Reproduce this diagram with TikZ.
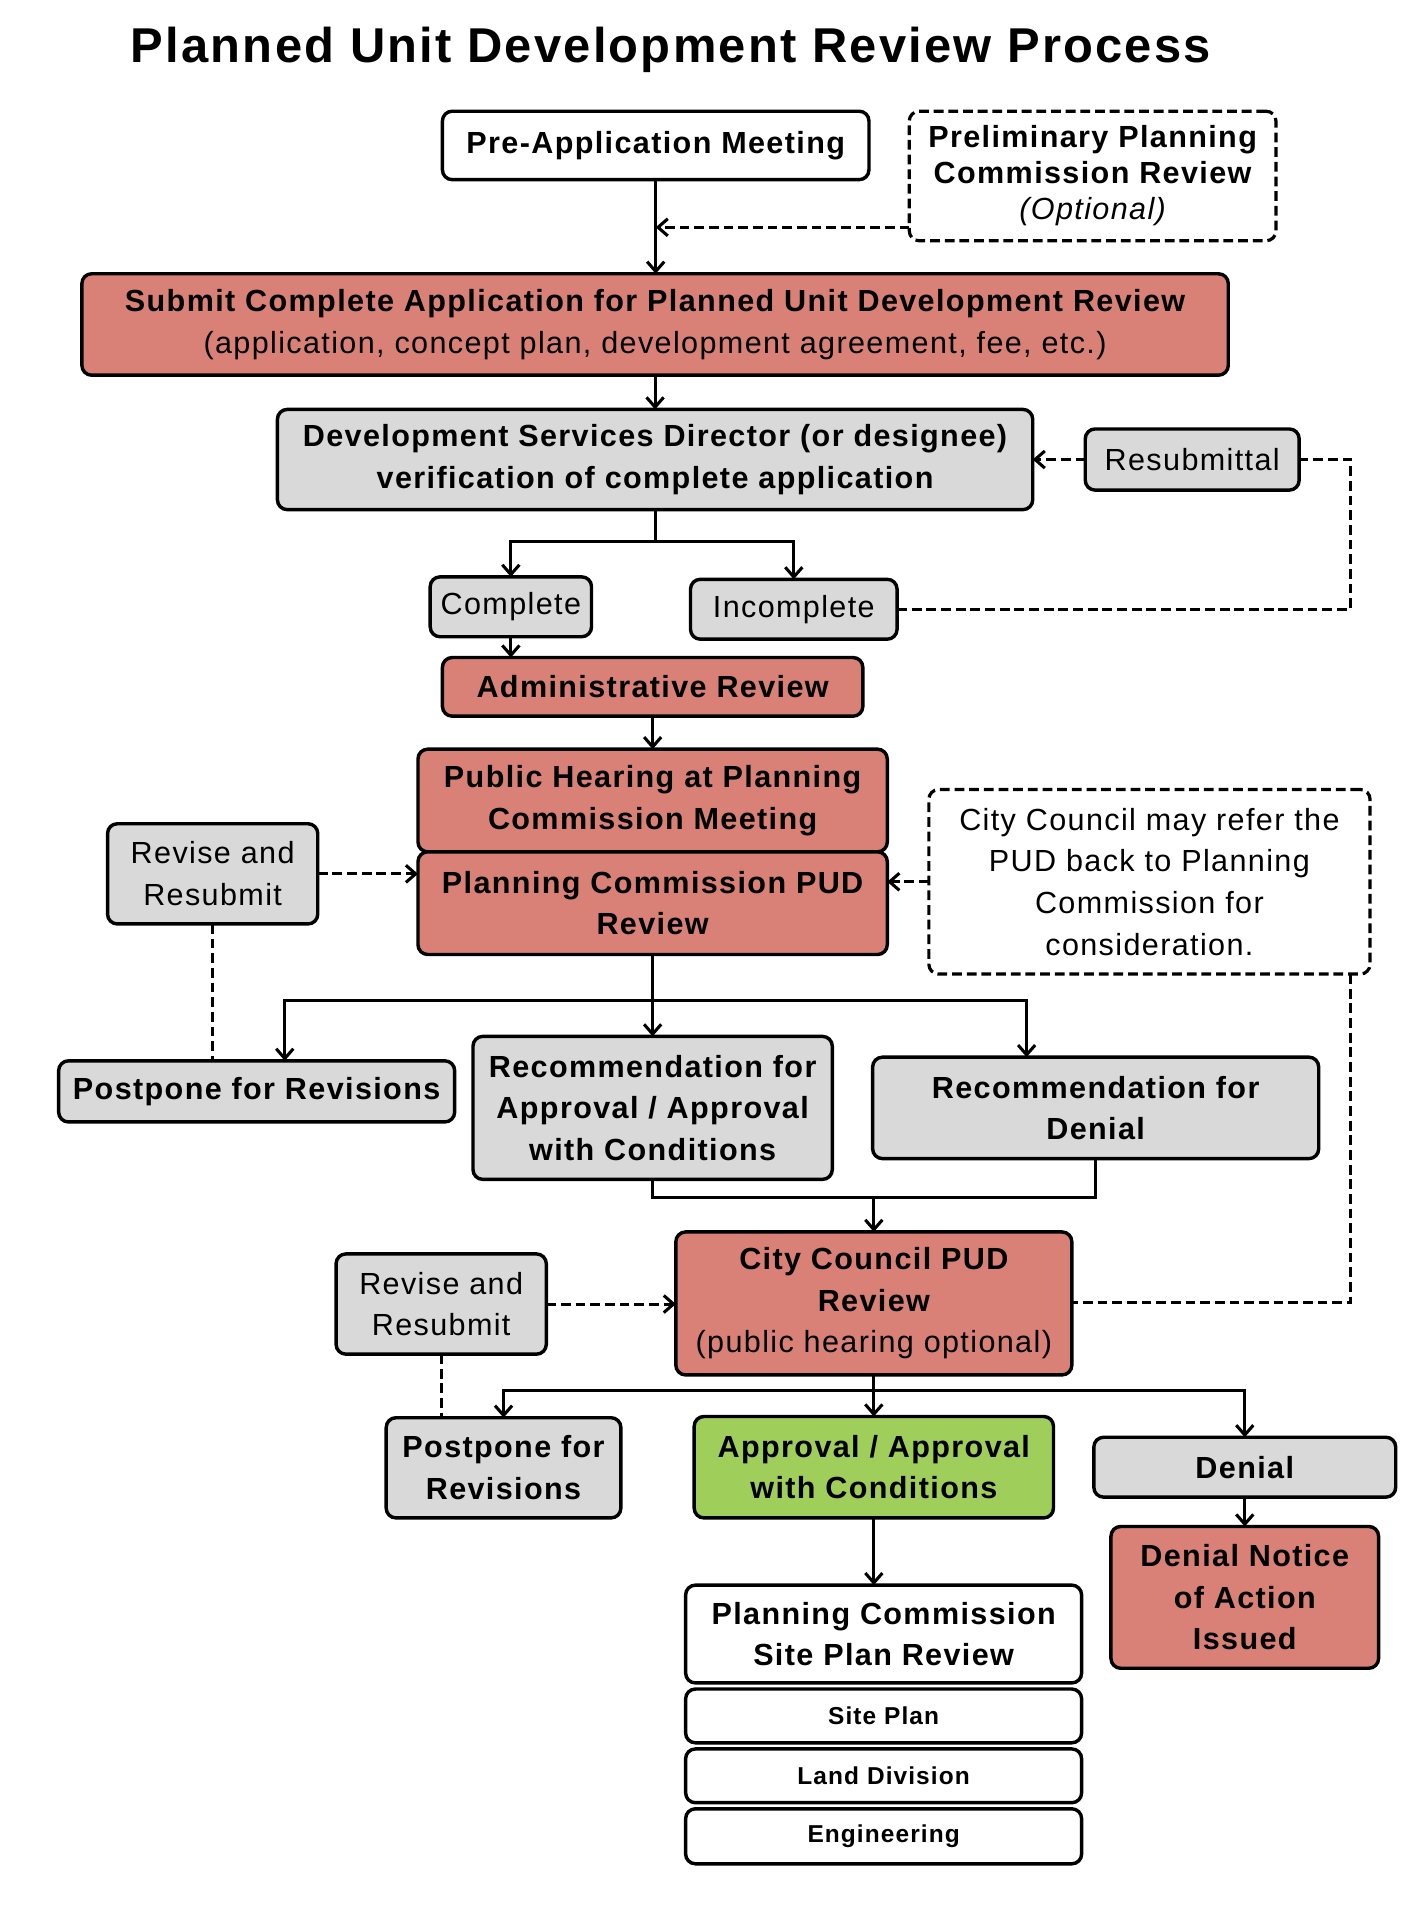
\documentclass[tikz,border=0pt]{standalone}
\usepackage{fontspec}
\setmainfont{Liberation Sans}[LetterSpace=4.5]
\usetikzlibrary{arrows.meta}
\definecolor{redbox}{HTML}{D98077}
\definecolor{greenbox}{HTML}{9FCE5B}
\definecolor{graybox}{HTML}{D9D9D9}
\newcommand\mkbox[7]{\node[#6, minimum width={(#4-#2)*0.5pt}, minimum height={(#5-#3)*0.5pt}] (#1) at ({(#2+#4)/2},{(#3+#5)/2}) {#7};}
\begin{document}
\begin{tikzpicture}[x=0.5pt,y=-0.5pt,
  box/.style={draw, line width=1.4pt, rounded corners=4pt, inner sep=0pt, outer sep=0pt, align=center, font=\fontsize{12.5}{17}\selectfont\bfseries},
  nbox/.style={box, font=\fontsize{12.5}{17}\selectfont},
  sbox/.style={box, fill=white, font=\fontsize{10}{12}\selectfont\bfseries},
  dbox/.style={box, line width=1.3pt, dash pattern=on 4pt off 2pt},
  redf/.style={fill=redbox},
  grayf/.style={fill=graybox},
  greenf/.style={fill=greenbox},
  whitef/.style={fill=white},
  line/.style={line width=1.25pt},
  arr/.style={line, -{Straight Barb[length=4pt,width=7pt]}},
  dline/.style={line, dash pattern=on 4pt off 2pt},
  darr/.style={dline, -{Straight Barb[length=4pt,width=7pt]}}]
\useasboundingbox (0,0) rectangle (1166,1562);
\node[font=\fontsize{20}{24}\selectfont\bfseries] (title) at (549,41) {Planned Unit Development Review Process};

\mkbox{pre}{362}{91}{711}{147}{box,whitef}{Pre-Application Meeting}
\mkbox{prelim}{744}{91}{1044}{197}{dbox,whitef,font=\fontsize{12.5}{14.75}\selectfont\bfseries}{Preliminary Planning\\Commission Review\\\mdseries\itshape (Optional)}
\mkbox{submit}{67}{224}{1005}{307}{box,redf}{Submit Complete Application for Planned Unit Development Review\\\mdseries (application, concept plan, development agreement, fee, etc.)}
\mkbox{dev}{227}{335}{845}{417}{box,grayf}{Development Services Director (or designee)\\verification of complete application}
\mkbox{resub}{888}{351}{1063}{401}{nbox,grayf}{Resubmittal}
\mkbox{complete}{352}{472}{484}{521}{nbox,grayf}{Complete}
\mkbox{incomplete}{565}{474}{734}{523}{nbox,grayf}{Incomplete}
\mkbox{admin}{362}{538}{706}{586}{box,redf}{Administrative Review}
\mkbox{ph}{342}{613}{726}{697}{box,redf}{Public Hearing at Planning\\Commission Meeting}
\mkbox{pcr}{342}{697}{726}{781}{box,redf}{Planning Commission PUD\\Review}
\mkbox{rev1}{88}{674}{260}{756}{nbox,grayf}{Revise and\\Resubmit}
\mkbox{note}{760}{646}{1121}{797}{dbox,whitef,font=\fontsize{12.5}{17}\selectfont}{City Council may refer the\\PUD back to Planning\\Commission for\\consideration.}
\mkbox{post1}{48}{868}{372}{918}{box,grayf}{Postpone for Revisions}
\mkbox{recA}{387}{848}{681}{965}{box,grayf}{Recommendation for\\Approval / Approval\\with Conditions}
\mkbox{recD}{714}{865}{1079}{948}{box,grayf}{Recommendation for\\Denial}
\mkbox{cc}{553}{1008}{877}{1125}{box,redf}{City Council PUD\\Review\\\mdseries (public hearing optional)}
\mkbox{rev2}{275}{1026}{447}{1108}{nbox,grayf}{Revise and\\Resubmit}
\mkbox{post2}{316}{1160}{508}{1242}{box,grayf}{Postpone for\\Revisions}
\mkbox{appr}{568}{1159}{862}{1242}{box,greenf}{Approval / Approval\\with Conditions}
\mkbox{denial}{895}{1176}{1142}{1225}{box,grayf}{Denial}
\mkbox{notice}{909}{1249}{1128}{1365}{box,redf}{Denial Notice\\of Action\\Issued}
\mkbox{sp}{561}{1297}{885}{1377}{box,whitef}{Planning Commission\\Site Plan Review}
\mkbox{sp1}{561}{1382}{885}{1426}{sbox}{Site Plan}
\mkbox{sp2}{561}{1431}{885}{1475}{sbox}{Land Division}
\mkbox{sp3}{561}{1480}{885}{1525}{sbox}{Engineering}

\coordinate (j1) at (536,443);
\coordinate (j2) at (534,819);
\coordinate (j3) at (715,980);
\coordinate (j4) at (715,1138);
\coordinate (rloop) at (1105,376);
\coordinate (nloop) at (1105,1066);

\draw[arr] (pre.south) -- (pre.south |- submit.north);
\draw[darr] (prelim.west |- 0,186) -- (pre.south |- 0,186);
\draw[arr] (submit.south) -- (submit.south |- dev.north);
\draw[darr] (resub.west) -- (resub.west -| dev.east);
\draw[dline] (incomplete.east) -| (rloop) -- (resub.east);
\draw[line] (dev.south) -- (j1);
\draw[arr] (j1) -| (complete.north);
\draw[arr] (j1) -| (incomplete.north);
\draw[arr] (complete.south) -- (complete.south |- admin.north);
\draw[arr] (admin.south) -- (admin.south |- ph.north);
\draw[darr] (rev1.east) -- (rev1.east -| pcr.west);
\draw[dline] (rev1.south) -- (rev1.south |- post1.north);
\draw[darr] (note.west) -- (note.west -| pcr.east);
\draw[dline] (note.south -| nloop) -- (nloop) -- (nloop -| cc.east);
\draw[arr] (pcr.south) -- (pcr.south |- recA.north);
\draw[arr] (j2) -| (post1.north -| 233,0);
\draw[arr] (j2) -| (recD.north -| 840,0);
\draw[line] (recA.south) -- (recA.south |- j3) -- (recD.south |- j3) -- (recD.south);
\draw[arr] (j3) -- (cc.north);
\draw[darr] (rev2.east) -- (rev2.east -| cc.west);
\draw[dline] (rev2.south) -- (rev2.south |- post2.north);
\draw[arr] (cc.south) -- (appr.north);
\draw[arr] (j4) -| (post2.north);
\draw[arr] (j4) -| (denial.north);
\draw[arr] (denial.south) -- (notice.north);
\draw[arr] (appr.south) -- (appr.south |- sp.north);
\end{tikzpicture}
\end{document}
